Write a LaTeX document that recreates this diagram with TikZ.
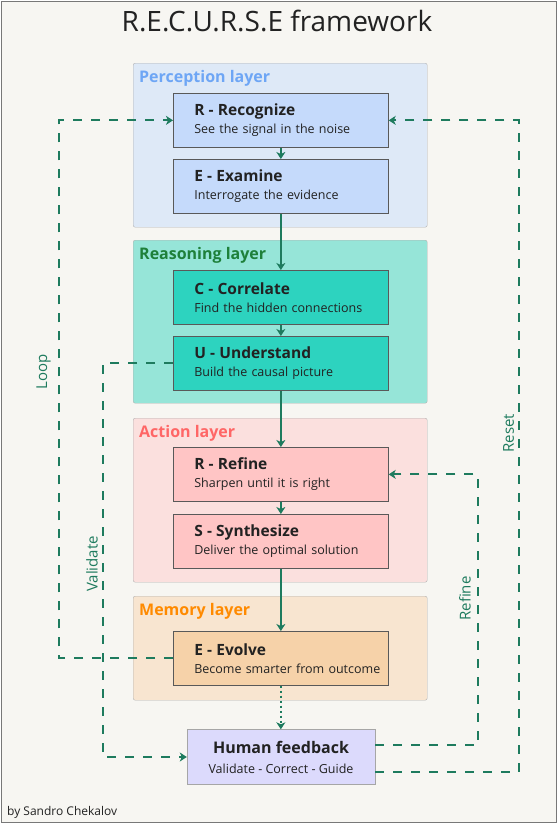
\documentclass[tikz,border=0pt]{standalone}
\usepackage{fontspec}
\setmainfont{Open Sans}
\usepackage{xcolor}
\usepackage{tikz}
\usetikzlibrary{arrows.meta,positioning,calc}
\definecolor{ink}{RGB}{34,34,34}
\definecolor{paper}{RGB}{247,246,242}
\definecolor{frame}{RGB}{120,120,120}
\definecolor{pine}{RGB}{30,123,94}
\definecolor{percfill}{RGB}{222,233,247}
\definecolor{percbox}{RGB}{197,218,251}
\definecolor{perctext}{RGB}{110,166,245}
\definecolor{reasfill}{RGB}{150,229,216}
\definecolor{reasbox}{RGB}{45,211,191}
\definecolor{reastext}{RGB}{30,128,58}
\definecolor{actfill}{RGB}{251,224,222}
\definecolor{actbox}{RGB}{255,197,197}
\definecolor{acttext}{RGB}{255,102,102}
\definecolor{memfill}{RGB}{248,229,208}
\definecolor{membox}{RGB}{246,210,169}
\definecolor{memtext}{RGB}{255,138,0}
\definecolor{humanfill}{RGB}{220,218,252}
\tikzset{
  layer/.style={draw=black!30,rounded corners=2pt,minimum width=294pt,anchor=north west,inner sep=0pt},
  layertitle/.style={anchor=base west,inner sep=0pt,font=\fontsize{16}{18}\selectfont\bfseries},
  stepbox/.style={draw=black!65,line width=0.7pt,minimum height=54pt,text width=215pt,
    inner xsep=0pt,inner ysep=0pt,align=left,anchor=north west,text=ink,font=\fontsize{12.5}{18}\selectfont},
  flow/.style={line width=2pt,pine,-{Stealth[length=7pt,width=9pt,inset=2pt]}},
  feedback/.style={flow,dash pattern=on 9pt off 9pt},
  memo/.style={flow,dash pattern=on 2pt off 3pt},
  looplabel/.style={text=pine,rotate=90,font=\fontsize{15}{18}\selectfont,inner sep=0pt}
}
\newcommand{\steptext}[2]{\hspace*{21pt}{\fontsize{15.5}{18}\selectfont\bfseries #1}\\\hspace*{21pt}#2}

\begin{document}
\begin{tikzpicture}[x=1pt,y=-1pt]
  \useasboundingbox (0,0) rectangle (558,825);
  \draw[frame,fill=paper,line width=1pt] (1.5,1.5) rectangle (556.5,822);
  \node[anchor=base,font=\fontsize{28}{32}\selectfont,text=ink] (title) at (277,31.7) {R.E.C.U.R.S.E framework};

  \node[layer,fill=percfill,minimum height=164pt] (perc) at (133,63) {};
  \node[layertitle,text=perctext] (perclabel) at (139,82) {Perception layer};
  \node[layer,fill=reasfill,minimum height=163pt] (reas) at (133,240) {};
  \node[layertitle,text=reastext] (reaslabel) at (139,259) {Reasoning layer};
  \node[layer,fill=actfill,minimum height=164pt] (act) at (133,418) {};
  \node[layertitle,text=acttext] (actlabel) at (139,437) {Action layer};
  \node[layer,fill=memfill,minimum height=104pt] (mem) at (133,596) {};
  \node[layertitle,text=memtext] (memlabel) at (139,615) {Memory layer};

  \node[stepbox,fill=percbox] (rec) at (173,93) {\steptext{R - Recognize}{See the signal in the noise}};
  \node[stepbox,fill=percbox] (exa) at (173,159) {\steptext{E - Examine}{Interrogate the evidence}};
  \node[stepbox,fill=reasbox] (cor) at (173,270) {\steptext{C - Correlate}{Find the hidden connections}};
  \node[stepbox,fill=reasbox] (und) at (173,336) {\steptext{U - Understand}{Build the causal picture}};
  \node[stepbox,fill=actbox] (ref) at (173,447) {\steptext{R - Refine}{Sharpen until it is right}};
  \node[stepbox,fill=actbox] (syn) at (173,514) {\steptext{S - Synthesize}{Deliver the optimal solution}};
  \node[stepbox,fill=membox] (evo) at (173,631) {\steptext{E - Evolve}{Become smarter from outcome}};

  \node[draw=black!35,fill=humanfill,minimum width=188pt,minimum height=55pt,align=center,
    text=ink,font=\fontsize{12.5}{20}\selectfont] (hum) at (281,757)
    {{\fontsize{16}{20}\selectfont\bfseries Human feedback}\\Validate - Correct - Guide};
  \node[anchor=base west,inner sep=0pt,text=ink,font=\fontsize{12}{14}\selectfont] (credit) at (7,815) {by Sandro Chekalov};

  \draw[flow] (rec) -- (exa);
  \draw[flow] (exa) -- (cor);
  \draw[flow] (cor) -- (und);
  \draw[flow] (und) -- (ref);
  \draw[flow] (ref) -- (syn);
  \draw[flow] (syn) -- (evo);
  \draw[memo] (evo.south) -- (evo.south |- hum.north);

  \coordinate (loopx) at (59,0);
  \coordinate (validx) at (103,0);
  \coordinate (refinex) at (478,0);
  \coordinate (resetx) at (519,0);
  \coordinate (refout) at ([yshift=12pt]hum.east);
  \coordinate (resetout) at ([yshift=-15pt]hum.east);

  \draw[feedback] (evo.west) -- (evo.west -| loopx) -- (rec.west -| loopx) -- (rec.west);
  \node[looplabel] (looptext) at (43.5,372) {Loop};
  \draw[feedback] (und.west) -- (und.west -| validx) -- (hum.west -| validx) -- (hum.west);
  \node[looplabel] (validtext) at (92,564) {Validate};
  \draw[feedback] (refout) -- (refout -| refinex) -- (ref.east -| refinex) -- (ref.east);
  \node[looplabel] (refinetext) at (465,598.5) {Refine};
  \draw[feedback] (resetout) -- (resetout -| resetx) -- (rec.east -| resetx) -- (rec.east);
  \node[looplabel] (resettext) at (508.5,433) {Reset};
\end{tikzpicture}
\end{document}
